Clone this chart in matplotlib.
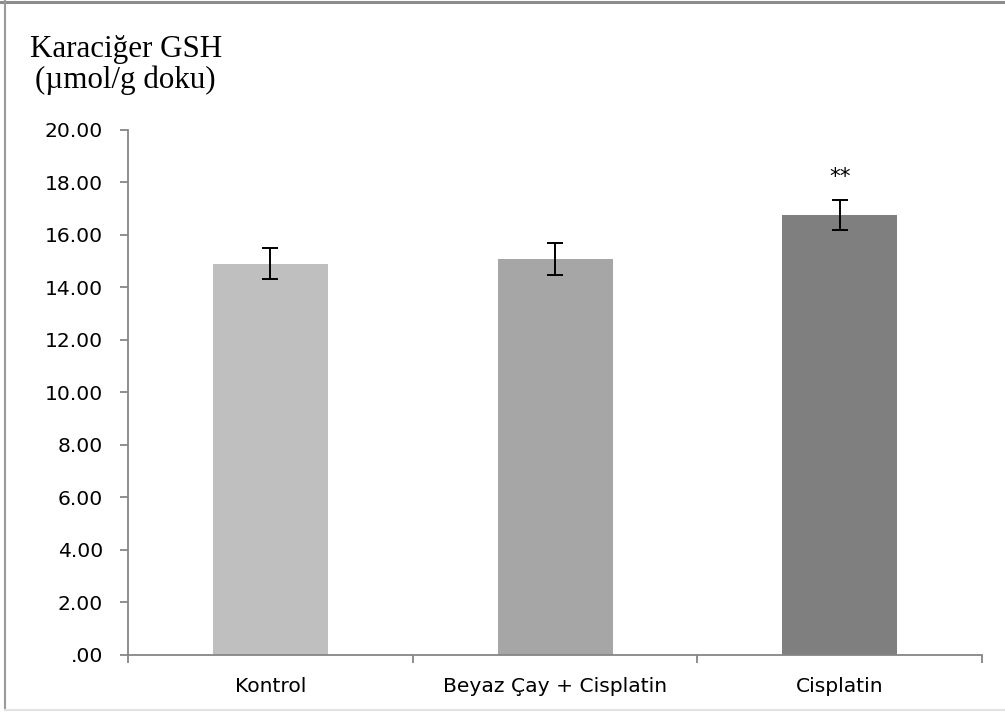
import numpy as np
import matplotlib
matplotlib.use('Agg')
import matplotlib.pyplot as plt
from matplotlib.lines import Line2D

# liver GSH by group
groups = ['Kontrol', 'Beyaz Çay + Cisplatin', 'Cisplatin']
gsh_mean = [14.90, 15.08, 16.76]
gsh_err = [0.59, 0.60, 0.58]
bar_colors = ['#BFBFBF', '#A6A6A6', '#7F7F7F']
marks = ['', '', '**']
yticks = [0, 2, 4, 6, 8, 10, 12, 14, 16, 18, 20]
ytick_labels = ['.00'] + ['%.2f' % v for v in yticks[1:]]

axis_gray = '#868686'

fig = plt.figure(figsize=(10.05, 7.13), dpi=100)
ax = fig.add_axes([0.1274, 0.0814, 0.8497, 0.7363])

x = np.arange(len(groups))
ax.bar(x, gsh_mean, width=0.404, color=bar_colors, zorder=2)
ax.errorbar(x, gsh_mean, yerr=gsh_err, fmt='none', ecolor='black',
            elinewidth=1.4, capsize=6, capthick=1.4, zorder=3)

for xi, m, e, s in zip(x, gsh_mean, gsh_err, marks):
    if s:
        ax.annotate(s, xy=(xi, m + e), xytext=(0, 9), textcoords='offset points',
                    ha='center', va='bottom', fontsize=15.5, family='DejaVu Sans')

ax.set_xlim(-0.5, 2.5)
ax.set_ylim(0, 20)
ax.set_yticks(yticks)
ax.set_yticklabels(ytick_labels)
ax.set_xticks(x)
ax.set_xticklabels(groups)
ax.set_xticks([-0.5, 0.5, 1.5, 2.5], minor=True)

for side in ['top', 'right']:
    ax.spines[side].set_visible(False)
for side in ['left', 'bottom']:
    ax.spines[side].set_color(axis_gray)
    ax.spines[side].set_linewidth(1.3)

ax.tick_params(axis='y', direction='out', length=6, width=1.3, color=axis_gray,
               pad=12, labelsize=14.6)
ax.tick_params(axis='x', which='major', length=0, pad=16, labelsize=14.6)
ax.tick_params(axis='x', which='minor', direction='out', length=6, width=1.3,
               color=axis_gray)

# axis title in the corner
fig.text(0.030, 0.920, 'Karaciğer GSH', fontsize=22.3, family='Liberation Serif',
         va='baseline')
fig.text(0.035, 0.8766, '(µmol/g doku)', fontsize=22.3, family='Liberation Serif',
         va='baseline')

# chart frame
fig.add_artist(Line2D([0, 1], [0.9975, 0.9975], color='#8C8C8C', lw=2.2))
fig.add_artist(Line2D([0.005, 0.005], [0.004, 0.998], color='#9A9A9A', lw=1.5))
fig.add_artist(Line2D([0.005, 1], [0.004, 0.004], color='#E3E3E3', lw=1.5))

fig.savefig('out.png', dpi=100)
